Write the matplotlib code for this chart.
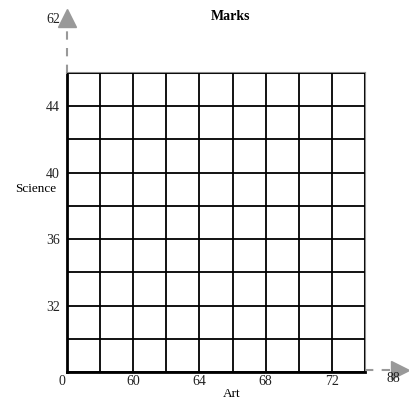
import matplotlib
matplotlib.use("Agg")
import matplotlib.pyplot as plt
import numpy as np

# axis ranges / ticks
x_range = [56, 74]
y_range = [28, 46]
x_ticks = [60, 64, 68, 72]
y_ticks = [32, 36, 40, 44]
grid_step = 2
# the odd labels at the arrow ends
origin_label = "0"
x_end_label = "88"
y_end_label = "62"

plt.rcParams['font.family'] = ['Liberation Serif', 'DejaVu Serif']

fig = plt.figure(figsize=(4.09, 4.01), dpi=100)
ax = fig.add_axes([67/409, 1-372/401, 298/409, 299/401])

ax.set_xlim(x_range)
ax.set_ylim(y_range)
ax.set_xticks(x_ticks)
ax.set_yticks(y_ticks)
ax.set_xticks(np.arange(x_range[0], x_range[1]+1, grid_step), minor=True)
ax.set_yticks(np.arange(y_range[0], y_range[1]+1, grid_step), minor=True)
ax.tick_params(which='both', length=0, labelsize=10, colors='#222222')
ax.tick_params(axis='y', pad=5)
ax.tick_params(axis='x', pad=2)
ax.grid(which='both', color='black', lw=1.3)
ax.set_axisbelow(False)

for s in ['top', 'right']:
    ax.spines[s].set_color('#888888')
    ax.spines[s].set_linewidth(1.5)
for s in ['left', 'bottom']:
    ax.spines[s].set_color('black')
    ax.spines[s].set_linewidth(2)

# dashed arrow extensions
gray = '#999999'
ax.plot([x_range[0], x_range[0]], [y_range[1], y_range[1]+2.9], color=gray,
        ls=(0, (4, 4)), lw=1.5, clip_on=False)
ax.plot([x_range[0]], [y_range[1]+3.3], marker='^', ms=13, color=gray,
        clip_on=False)
ax.plot([x_range[1], x_range[1]+1.7], [y_range[0]+0.1, y_range[0]+0.1], color=gray,
        ls=(0, (4, 4)), lw=1.5, clip_on=False)
ax.plot([x_range[1]+2.1], [y_range[0]+0.1], marker='>', ms=13, color=gray,
        clip_on=False)

ax.text(x_range[0]-0.3, y_range[0]-0.55, origin_label, fontsize=10, ha='center', va='center',
        color='#222222')
ax.text(x_range[1]+1.7, y_range[0]-0.4, x_end_label, fontsize=10, ha='center', va='center',
        color='#222222')
ax.text(x_range[0]-0.4, y_range[1]+3.25, y_end_label, fontsize=10, ha='right', va='center',
        color='#222222')

fig.text(231/409, 1-17/401, "Marks", fontsize=10, fontweight='bold', ha='center', va='center')
fig.text(36/409, 1-189/401, "Science", fontsize=9.5, ha='center', va='center')
fig.text(232/409, 1-394/401, "Art", fontsize=9.5, ha='center', va='center')

fig.savefig("out.png", dpi=100)
